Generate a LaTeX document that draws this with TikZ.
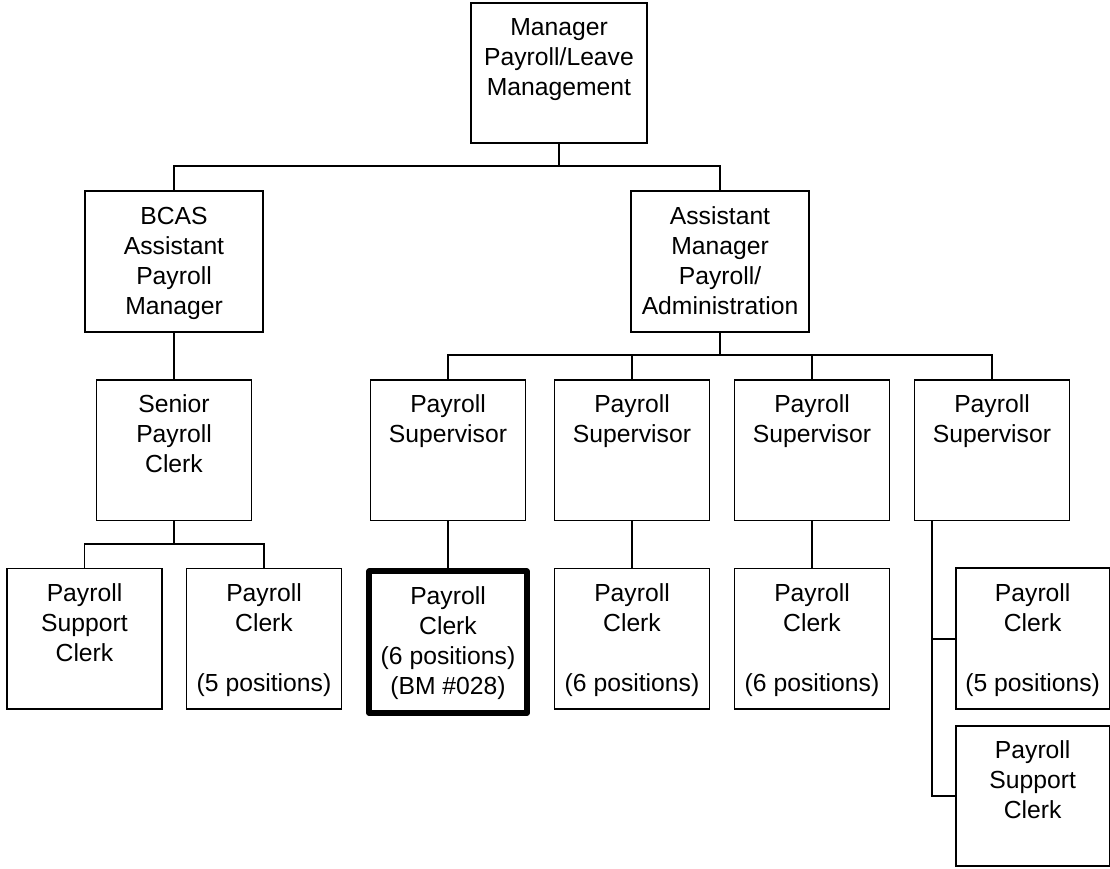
\documentclass[tikz,border=0pt]{standalone}
\usepackage{fontspec}
\setmainfont{Liberation Sans}
\newcommand{\bxt}[3]{\parbox[c][#2][t]{#1}{\centering\rule{0pt}{33pt}#3}}
\newcommand{\topbox}[1]{\bxt{176.7pt}{140.6pt}{#1}}
\newcommand{\widebox}[1]{\bxt{178pt}{140.4pt}{#1}}
\newcommand{\smallbox}[1]{\bxt{155pt}{140.5pt}{#1}}
\tikzset{
  bx/.style={draw, line width=1.8pt, inner sep=0pt, outer sep=0pt, fill=white,
    font=\fontsize{24.7}{30}\selectfont},
  boldbx/.style={bx, line width=6pt, line join=round},
  conn/.style={line width=1.8pt}
}
\begin{document}
\begin{tikzpicture}[x=1pt,y=-1pt]
\useasboundingbox (0,0) rectangle (1110,869);
% level 1
\node[bx] (top) at (559,73) {\topbox{Manager\\Payroll/Leave\\Management}};
% level 2
\node[bx] (bcas) at (174,261.5) {\widebox{BCAS\\Assistant\\Payroll\\Manager}};
\node[bx] (asst) at (720,261.5) {\widebox{Assistant\\Manager\\Payroll/\\Administration}};
% level 3
\node[bx] (sen) at (174,450.2) {\smallbox{Senior\\Payroll\\Clerk}};
\node[bx] (s1) at (448,450.2) {\smallbox{Payroll\\Supervisor}};
\node[bx] (s2) at (632,450.2) {\smallbox{Payroll\\Supervisor}};
\node[bx] (s3) at (812,450.2) {\smallbox{Payroll\\Supervisor}};
\node[bx] (s4) at (992,450.2) {\smallbox{Payroll\\Supervisor}};
% level 4
\node[bx] (l1) at (84.5,638.7) {\smallbox{Payroll\\Support\\Clerk}};
\node[bx] (l2) at (264,638.7) {\smallbox{Payroll\\Clerk\\[30pt](5 positions)}};
\node[boldbx] (c1) at (448,642.2) {\bxt{157.3pt}{141.7pt}{Payroll\\Clerk\\(6 positions)\\(BM \#028)}};
\node[bx] (c2) at (632,638.7) {\smallbox{Payroll\\Clerk\\[30pt](6 positions)}};
\node[bx] (c3) at (812,638.7) {\smallbox{Payroll\\Clerk\\[30pt](6 positions)}};
\node[bx] (r1) at (1032.7,638.7) {\bxt{154pt}{140.7pt}{Payroll\\Clerk\\[30pt](5 positions)}};
\node[bx] (r2) at (1032.7,795.8) {\bxt{154pt}{140.3pt}{Payroll\\Support\\Clerk}};
% junctions
\coordinate (j1) at (559,166);
\coordinate (j2) at (720,355);
\coordinate (j3) at (174,544);
\coordinate (k4) at (932,0);
% connectors
\draw[conn] (top.south) -- (j1);
\draw[conn] (bcas.north) |- (j1) -| (asst.north);
\draw[conn] (bcas.south) -- (sen.north);
\draw[conn] (asst.south) -- (j2);
\draw[conn] (s1.north) |- (j2) -| (s4.north);
\draw[conn] (s2.north) |- (j2);
\draw[conn] (s3.north) |- (j2);
\draw[conn] (sen.south) -- (j3);
\draw[conn] (l1.north) |- (j3) -| (l2.north);
\draw[conn] (s1.south) -- (c1.north);
\draw[conn] (s2.south) -- (c2.north);
\draw[conn] (s3.south) -- (c3.north);
\draw[conn] (s4.south -| k4) |- (r1.west);
\draw[conn] (s4.south -| k4) |- (r2.west);
\end{tikzpicture}
\end{document}
